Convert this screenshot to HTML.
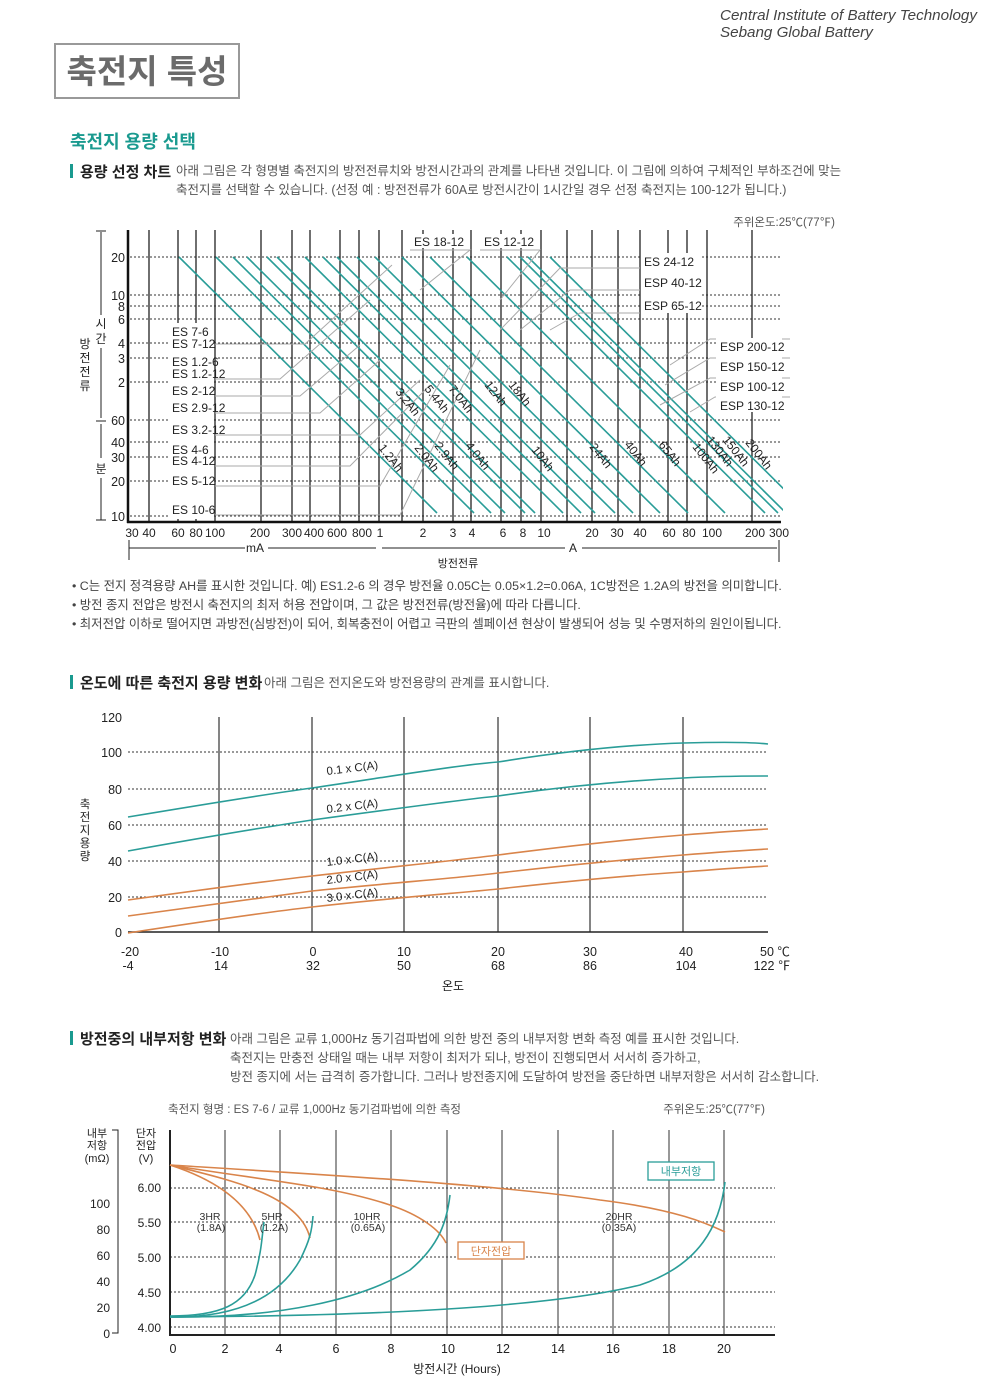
<!DOCTYPE html>
<html><head><meta charset="utf-8">
<style>
html,body{margin:0;padding:0;background:#fff;}
svg{display:block;}
text{font-family:"Liberation Sans","Noto Sans CJK KR",sans-serif;}
</style></head><body>
<svg width="1000" height="1391" viewBox="0 0 1000 1391" xmlns="http://www.w3.org/2000/svg">
<defs>
<clipPath id="c1"><rect x="128" y="240" width="655" height="282"/></clipPath>
</defs>
<!-- header -->
<text x="720" y="20" font-size="15.2" font-style="italic" fill="#444">Central Institute of Battery Technology</text>
<text x="720" y="37" font-size="15.2" font-style="italic" fill="#444">Sebang Global Battery</text>
<rect x="55" y="44" width="184" height="54" fill="#fff" stroke="#999" stroke-width="2"/>
<text x="147" y="83" font-size="33" font-weight="bold" fill="#6b6b6b" text-anchor="middle">축전지 특성</text>
<text x="70" y="148" font-size="18" font-weight="bold" fill="#1a9a8f">축전지 용량 선택</text>

<rect x="70" y="164" width="3" height="14" fill="#1a9a8f"/>
<text x="80" y="177" font-size="15" font-weight="bold" fill="#222">용량 선정 차트</text>
<text x="176" y="175" font-size="12.5" fill="#555">아래 그림은 각 형명별 축전지의 방전전류치와 방전시간과의 관계를 나타낸 것입니다. 이 그림에 의하여 구체적인 부하조건에 맞는</text>
<text x="176" y="194" font-size="12.5" fill="#555">축전지를 선택할 수 있습니다. (선정 예 : 방전전류가 60A로 방전시간이 1시간일 경우 선정 축전지는 100-12가 됩니다.)</text>
<text x="835" y="226" font-size="11.5" fill="#555" text-anchor="end">주위온도:25℃(77℉)</text>

<!-- chart 1 horizontal dotted -->
<g stroke="#333" stroke-width="1" stroke-dasharray="2,2">
<line x1="130" y1="257" x2="780" y2="257"/>
<line x1="130" y1="295" x2="780" y2="295"/>
<line x1="130" y1="306" x2="780" y2="306"/>
<line x1="130" y1="319" x2="780" y2="319"/>
<line x1="130" y1="343" x2="780" y2="343"/>
<line x1="130" y1="358" x2="780" y2="358"/>
<line x1="130" y1="382" x2="780" y2="382"/>
<line x1="130" y1="420" x2="780" y2="420"/>
<line x1="130" y1="442" x2="780" y2="442"/>
<line x1="130" y1="457" x2="780" y2="457"/>
<line x1="130" y1="481" x2="780" y2="481"/>
<line x1="130" y1="516" x2="780" y2="516"/>
</g>
<!-- vertical lines -->
<g stroke="#222" stroke-width="1.3">
<line x1="149" y1="230" x2="149" y2="522"/>
<line x1="178" y1="230" x2="178" y2="522"/>
<line x1="196" y1="230" x2="196" y2="522"/>
<line x1="215" y1="230" x2="215" y2="522"/>
<line x1="261" y1="230" x2="261" y2="522"/>
<line x1="292" y1="230" x2="292" y2="522"/>
<line x1="310" y1="230" x2="310" y2="522"/>
<line x1="340" y1="230" x2="340" y2="522"/>
<line x1="359" y1="230" x2="359" y2="522"/>
<line x1="379" y1="230" x2="379" y2="522"/>
<line x1="402" y1="230" x2="402" y2="522"/>
<line x1="423" y1="230" x2="423" y2="522"/>
<line x1="453" y1="230" x2="453" y2="522"/>
<line x1="471" y1="230" x2="471" y2="522"/>
<line x1="501" y1="230" x2="501" y2="522"/>
<line x1="521" y1="230" x2="521" y2="522"/>
<line x1="541" y1="230" x2="541" y2="522"/>
<line x1="567" y1="230" x2="567" y2="522"/>
<line x1="592" y1="230" x2="592" y2="522"/>
<line x1="618" y1="230" x2="618" y2="522"/>
<line x1="640" y1="230" x2="640" y2="522"/>
<line x1="668" y1="230" x2="668" y2="522"/>
<line x1="687" y1="230" x2="687" y2="522"/>
<line x1="707" y1="230" x2="707" y2="522"/>
<line x1="752" y1="230" x2="752" y2="522"/>
</g>
<!-- diagonal teal lines -->
<g stroke="#2a9d98" stroke-width="1.6" clip-path="url(#c1)">
<line x1="179" y1="257" x2="437" y2="513"/>
<line x1="216" y1="257" x2="474" y2="513"/>
<line x1="233" y1="257" x2="491" y2="513"/>
<line x1="247" y1="257" x2="505" y2="513"/>
<line x1="267" y1="257" x2="525" y2="513"/>
<line x1="277" y1="257" x2="535" y2="513"/>
<line x1="305" y1="257" x2="563" y2="513"/>
<line x1="323" y1="257" x2="581" y2="513"/>
<line x1="337" y1="257" x2="595" y2="513"/>
<line x1="357" y1="257" x2="615" y2="513"/>
<line x1="375" y1="257" x2="633" y2="513"/>
<line x1="402" y1="257" x2="660" y2="513"/>
<line x1="430" y1="257" x2="688" y2="513"/>
<line x1="467" y1="257" x2="725" y2="513"/>
<line x1="507" y1="257" x2="765" y2="513"/>
<line x1="520" y1="257" x2="778" y2="513"/>
<line x1="528" y1="257" x2="786" y2="513"/>
<line x1="550" y1="257" x2="808" y2="513"/>
</g>
<!-- gray leaders -->
<g stroke="#aaa" stroke-width="1" fill="none">
<polyline points="215,344 305,344 392,265"/>
<polyline points="215,379 280,379 370,300"/>
<polyline points="215,396 300,396 360,345"/>
<polyline points="215,413 320,413 380,360"/>
<polyline points="215,435 360,435 420,380"/>
<polyline points="215,466 350,466 430,385"/>
<polyline points="215,486 380,486 450,365"/>
<polyline points="215,515 400,515 480,350"/>
<polyline points="410,250 470,250 420,290"/>
<polyline points="480,250 540,250 500,300"/>
<polyline points="640,268 560,268 500,330"/>
<polyline points="640,290 570,290 520,330"/>
<polyline points="640,313 580,313 550,330"/>
<polyline points="790,339 710,339 670,365"/>
<polyline points="790,358 710,358 665,385"/>
<polyline points="790,378 710,378 660,405"/>
<polyline points="790,397 715,397 690,412"/>
</g>
<!-- labels left -->
<g font-size="12" fill="#222">
<rect x="170" y="323" width="44" height="196" fill="#fff"/>
<text x="172" y="336">ES 7-6</text>
<text x="172" y="348">ES 7-12</text>
<text x="172" y="366">ES 1.2-6</text>
<text x="172" y="378">ES 1.2-12</text>
<text x="172" y="395">ES 2-12</text>
<text x="172" y="412">ES 2.9-12</text>
<text x="172" y="434">ES 3.2-12</text>
<text x="172" y="454">ES 4-6</text>
<text x="172" y="465">ES 4-12</text>
<text x="172" y="485">ES 5-12</text>
<text x="172" y="514">ES 10-6</text>
<rect x="410" y="234" width="58" height="14" fill="#fff"/>
<rect x="480" y="234" width="58" height="14" fill="#fff"/>
<text x="414" y="246">ES 18-12</text>
<text x="484" y="246">ES 12-12</text>
<rect x="642" y="253" width="60" height="60" fill="#fff"/>
<text x="644" y="266">ES 24-12</text>
<text x="644" y="287">ESP 40-12</text>
<text x="644" y="310">ESP 65-12</text>
<rect x="716" y="338" width="66" height="74" fill="#fff"/>
<text x="720" y="351">ESP 200-12</text>
<text x="720" y="371">ESP 150-12</text>
<text x="720" y="391">ESP 100-12</text>
<text x="720" y="410">ESP 130-12</text>
</g>
<!-- Ah labels rotated -->
<g font-size="12" fill="#222">
<text transform="translate(378,448) rotate(52)">1.2Ah</text>
<text transform="translate(414,448) rotate(52)">2.0Ah</text>
<text transform="translate(434,446) rotate(52)">2.9Ah</text>
<text transform="translate(465,446) rotate(52)">4.0Ah</text>
<text transform="translate(395,392) rotate(52)">3.2Ah</text>
<text transform="translate(424,389) rotate(52)">5.4Ah</text>
<text transform="translate(448,389) rotate(52)">7.0Ah</text>
<text transform="translate(484,385) rotate(52)">12Ah</text>
<text transform="translate(508,385) rotate(52)">18Ah</text>
<text transform="translate(531,450) rotate(52)">10Ah</text>
<text transform="translate(589,447) rotate(52)">24Ah</text>
<text transform="translate(624,445) rotate(52)">40Ah</text>
<text transform="translate(658,445) rotate(52)">65Ah</text>
<text transform="translate(692,447) rotate(52)">100Ah</text>
<text transform="translate(706,440) rotate(52)">130Ah</text>
<text transform="translate(722,440) rotate(52)">150Ah</text>
<text transform="translate(745,443) rotate(52)">200Ah</text>
</g>
<!-- axes -->
<line x1="128" y1="230" x2="128" y2="523" stroke="#111" stroke-width="2.5"/>
<line x1="127" y1="522" x2="781" y2="522" stroke="#111" stroke-width="2.5"/>
<g font-size="12.5" fill="#222" text-anchor="end">
<text x="125" y="262">20</text><text x="125" y="300">10</text><text x="125" y="311">8</text><text x="125" y="324">6</text>
<text x="125" y="348">4</text><text x="125" y="363">3</text><text x="125" y="387">2</text><text x="125" y="425">60</text>
<text x="125" y="447">40</text><text x="125" y="462">30</text><text x="125" y="486">20</text><text x="125" y="521">10</text>
</g>
<g stroke="#222" stroke-width="1"><line x1="101" y1="232" x2="101" y2="315"/><line x1="101" y1="348" x2="101" y2="418"/><line x1="101" y1="424" x2="101" y2="458"/><line x1="101" y1="478" x2="101" y2="520"/><line x1="96" y1="231" x2="106" y2="231"/><line x1="96" y1="421" x2="106" y2="421"/><line x1="96" y1="520" x2="106" y2="520"/></g>
<g font-size="12" fill="#222" text-anchor="middle">
<text x="101" y="328">시</text><text x="101" y="343">간</text><text x="101" y="473">분</text>
<text x="85" y="348">방</text><text x="85" y="362">전</text><text x="85" y="376">전</text><text x="85" y="390">류</text>
</g>
<g font-size="12" fill="#222" text-anchor="middle">
<text x="132" y="537">30</text><text x="149" y="537">40</text><text x="178" y="537">60</text><text x="196" y="537">80</text><text x="215" y="537">100</text>
<text x="260" y="537">200</text><text x="292" y="537">300</text><text x="314" y="537">400</text><text x="337" y="537">600</text><text x="362" y="537">800</text><text x="380" y="537">1</text>
<text x="423" y="537">2</text><text x="453" y="537">3</text><text x="472" y="537">4</text><text x="503" y="537">6</text><text x="523" y="537">8</text><text x="544" y="537">10</text>
<text x="592" y="537">20</text><text x="617" y="537">30</text><text x="640" y="537">40</text><text x="669" y="537">60</text><text x="689" y="537">80</text><text x="712" y="537">100</text>
<text x="755" y="537">200</text><text x="779" y="537">300</text>
<text x="255" y="552">mA</text><text x="573" y="552">A</text><text x="458" y="567" font-size="11">방전전류</text>
</g>
<g stroke="#222" stroke-width="1"><line x1="129" y1="548" x2="245" y2="548"/><line x1="268" y1="548" x2="376" y2="548"/><line x1="382" y1="548" x2="565" y2="548"/><line x1="582" y1="548" x2="777" y2="548"/><line x1="129" y1="540" x2="129" y2="560"/><line x1="779" y1="540" x2="779" y2="562"/></g>
<g font-size="12.4" fill="#444">
<text x="72" y="590">• C는 전지 정격용량 AH를 표시한 것입니다. 예) ES1.2-6 의 경우 방전율 0.05C는 0.05×1.2=0.06A, 1C방전은 1.2A의 방전을 의미합니다.</text>
<text x="72" y="609">• 방전 종지 전압은 방전시 축전지의 최저 허용 전압이며, 그 값은 방전전류(방전율)에 따라 다릅니다.</text>
<text x="72" y="628">• 최저전압 이하로 떨어지면 과방전(심방전)이 되어, 회복충전이 어렵고 극판의 셀페이션 현상이 발생되어 성능 및 수명저하의 원인이됩니다.</text>
</g>

<!-- section 2 -->
<rect x="70" y="675" width="3" height="14" fill="#1a9a8f"/>
<text x="80" y="688" font-size="15" font-weight="bold" fill="#222">온도에 따른 축전지 용량 변화</text>
<text x="264" y="687" font-size="12.5" fill="#555">아래 그림은 전지온도와 방전용량의 관계를 표시합니다.</text>
<g stroke="#333" stroke-width="1" stroke-dasharray="2,2">
<line x1="128" y1="752" x2="768" y2="752"/><line x1="128" y1="789" x2="768" y2="789"/><line x1="128" y1="825" x2="768" y2="825"/><line x1="128" y1="861" x2="768" y2="861"/><line x1="128" y1="897" x2="768" y2="897"/>
</g>
<g stroke="#333" stroke-width="1.2">
<line x1="219" y1="717" x2="219" y2="932"/><line x1="312" y1="717" x2="312" y2="932"/><line x1="404" y1="717" x2="404" y2="932"/><line x1="498" y1="717" x2="498" y2="932"/><line x1="590" y1="717" x2="590" y2="932"/><line x1="683" y1="717" x2="683" y2="932"/>
</g>
<line x1="128" y1="932" x2="768" y2="932" stroke="#222" stroke-width="1.5"/>
<g fill="none" stroke-width="1.6">
<path d="M128,817 C200,805 260,795 312,788 C400,775 460,765 498,762 C560,752 620,745 683,743 C720,742 750,742 768,744" stroke="#2a9d98"/>
<path d="M128,851 C200,838 260,828 312,820 C400,808 460,800 498,796 C560,787 620,781 683,778 C720,776 750,776 768,776" stroke="#2a9d98"/>
<path d="M128,900 C200,890 260,882 312,876 C400,866 460,860 498,855 C560,847 620,840 683,835 C720,832 750,830 768,829" stroke="#d9844a"/>
<path d="M128,916 C200,906 260,898 312,891 C400,882 460,878 498,873 C560,866 620,860 683,855 C720,852 750,850 768,849" stroke="#d9844a"/>
<path d="M128,933 C200,922 260,913 312,907 C400,897 460,893 498,889 C560,882 620,876 683,872 C720,869 750,867 768,866" stroke="#d9844a"/>
</g>
<g font-size="11.5" fill="#222">
<text transform="translate(327,775) rotate(-7)">0.1 x C(A)</text>
<text transform="translate(327,813) rotate(-7)">0.2 x C(A)</text>
<text transform="translate(327,866) rotate(-7)">1.0 x C(A)</text>
<text transform="translate(327,884) rotate(-7)">2.0 x C(A)</text>
<text transform="translate(327,902) rotate(-7)">3.0 x C(A)</text>
</g>
<g font-size="12.5" fill="#222" text-anchor="end">
<text x="122" y="722">120</text><text x="122" y="757">100</text><text x="122" y="794">80</text><text x="122" y="830">60</text><text x="122" y="866">40</text><text x="122" y="902">20</text><text x="122" y="937">0</text>
</g>
<g font-size="11.5" fill="#222" text-anchor="middle">
<text x="85" y="808">축</text><text x="85" y="821">전</text><text x="85" y="834">지</text><text x="85" y="847">용</text><text x="85" y="860">량</text>
</g>
<g font-size="12.5" fill="#222" text-anchor="middle">
<text x="130" y="956">-20</text><text x="128" y="970">-4</text>
<text x="220" y="956">-10</text><text x="221" y="970">14</text>
<text x="313" y="956">0</text><text x="313" y="970">32</text>
<text x="404" y="956">10</text><text x="404" y="970">50</text>
<text x="498" y="956">20</text><text x="498" y="970">68</text>
<text x="590" y="956">30</text><text x="590" y="970">86</text>
<text x="686" y="956">40</text><text x="686" y="970">104</text>
<text x="775" y="956">50 ℃</text><text x="772" y="970">122 ℉</text>
<text x="453" y="990" font-size="12">온도</text>
</g>

<!-- section 3 -->
<rect x="70" y="1031" width="3" height="14" fill="#1a9a8f"/>
<text x="80" y="1044" font-size="15" font-weight="bold" fill="#222">방전중의 내부저항 변화</text>
<g font-size="12.5" fill="#555">
<text x="230" y="1043">아래 그림은 교류 1,000Hz 동기검파법에 의한 방전 중의 내부저항 변화 측정 예를 표시한 것입니다.</text>
<text x="230" y="1062">축전지는 만충전 상태일 때는 내부 저항이 최저가 되나, 방전이 진행되면서 서서히 증가하고,</text>
<text x="230" y="1081">방전 종지에 서는 급격히 증가합니다. 그러나 방전종지에 도달하여 방전을 중단하면 내부저항은 서서히 감소합니다.</text>
</g>
<text x="168" y="1113" font-size="11.5" fill="#555">축전지 형명 : ES 7-6 / 교류 1,000Hz 동기검파법에 의한 측정</text>
<text x="765" y="1113" font-size="11.5" fill="#555" text-anchor="end">주위온도:25℃(77℉)</text>
<g stroke="#333" stroke-width="1" stroke-dasharray="2,2">
<line x1="170" y1="1188" x2="775" y2="1188"/><line x1="170" y1="1222" x2="775" y2="1222"/><line x1="170" y1="1257" x2="775" y2="1257"/><line x1="170" y1="1292" x2="775" y2="1292"/><line x1="170" y1="1327" x2="775" y2="1327"/>
</g>
<g stroke="#444" stroke-width="1.1">
<line x1="225" y1="1130" x2="225" y2="1335"/><line x1="280" y1="1130" x2="280" y2="1335"/><line x1="336" y1="1130" x2="336" y2="1335"/><line x1="391" y1="1130" x2="391" y2="1335"/><line x1="447" y1="1130" x2="447" y2="1335"/><line x1="502" y1="1130" x2="502" y2="1335"/><line x1="558" y1="1130" x2="558" y2="1335"/><line x1="613" y1="1130" x2="613" y2="1335"/><line x1="669" y1="1130" x2="669" y2="1335"/><line x1="724" y1="1130" x2="724" y2="1335"/>
</g>
<line x1="170" y1="1130" x2="170" y2="1336" stroke="#222" stroke-width="2"/>
<line x1="169" y1="1335" x2="775" y2="1335" stroke="#222" stroke-width="2"/>
<g fill="none" stroke="#d9844a" stroke-width="1.6">
<path d="M170,1165 C210,1178 250,1200 260,1240"/>
<path d="M170,1165 C230,1180 300,1195 310,1238"/>
<path d="M170,1165 C260,1180 330,1185 390,1205 C420,1215 440,1230 446,1243"/>
<path d="M170,1165 C330,1175 500,1185 600,1200 C680,1210 710,1225 725,1232"/>
</g>
<g fill="none" stroke="#2a9d98" stroke-width="1.6">
<path d="M170,1316 C220,1316 245,1305 255,1275 C262,1250 262,1235 264,1222"/>
<path d="M170,1317 C240,1318 280,1295 300,1260 C310,1240 312,1230 313,1216"/>
<path d="M170,1317 C280,1318 360,1300 410,1270 C440,1245 447,1220 450,1195"/>
<path d="M170,1317 C400,1316 560,1305 640,1285 C700,1265 720,1225 725,1182"/>
</g>
<g font-size="10.5" fill="#333" text-anchor="middle">
<text x="210" y="1220">3HR</text><text x="211" y="1231">(1.8A)</text>
<text x="272" y="1220">5HR</text><text x="274" y="1231">(1.2A)</text>
<text x="367" y="1220">10HR</text><text x="368" y="1231">(0.65A)</text>
<text x="619" y="1220">20HR</text><text x="619" y="1231">(0.35A)</text>
</g>
<rect x="648" y="1162" width="66" height="18" fill="#fff" stroke="#2a9d98" stroke-width="1.3"/>
<text x="681" y="1175" font-size="11" fill="#2a9d98" text-anchor="middle">내부저항</text>
<rect x="458" y="1242" width="66" height="17" fill="#fff" stroke="#d9844a" stroke-width="1.3"/>
<text x="491" y="1255" font-size="11" fill="#d9844a" text-anchor="middle">단자전압</text>
<g font-size="12" fill="#222" text-anchor="end">
<text x="161" y="1192">6.00</text><text x="161" y="1227">5.50</text><text x="161" y="1262">5.00</text><text x="161" y="1297">4.50</text><text x="161" y="1332">4.00</text>
<text x="110" y="1208">100</text><text x="110" y="1234">80</text><text x="110" y="1260">60</text><text x="110" y="1286">40</text><text x="110" y="1312">20</text><text x="110" y="1338">0</text>
</g>
<g font-size="11" fill="#222" text-anchor="middle">
<text x="97" y="1137">내부</text><text x="97" y="1149">저항</text><text x="97" y="1162">(mΩ)</text>
<text x="146" y="1137">단자</text><text x="146" y="1149">전압</text><text x="146" y="1162">(V)</text>
</g>
<polyline points="112,1130 118,1130 118,1333 112,1333" fill="none" stroke="#222" stroke-width="1"/>
<g font-size="12.5" fill="#222" text-anchor="middle">
<text x="173" y="1353">0</text><text x="225" y="1353">2</text><text x="279" y="1353">4</text><text x="336" y="1353">6</text><text x="391" y="1353">8</text><text x="448" y="1353">10</text><text x="503" y="1353">12</text><text x="558" y="1353">14</text><text x="613" y="1353">16</text><text x="669" y="1353">18</text><text x="724" y="1353">20</text>
<text x="457" y="1373" font-size="12">방전시간 (Hours)</text>
</g>
</svg>
</body></html>
